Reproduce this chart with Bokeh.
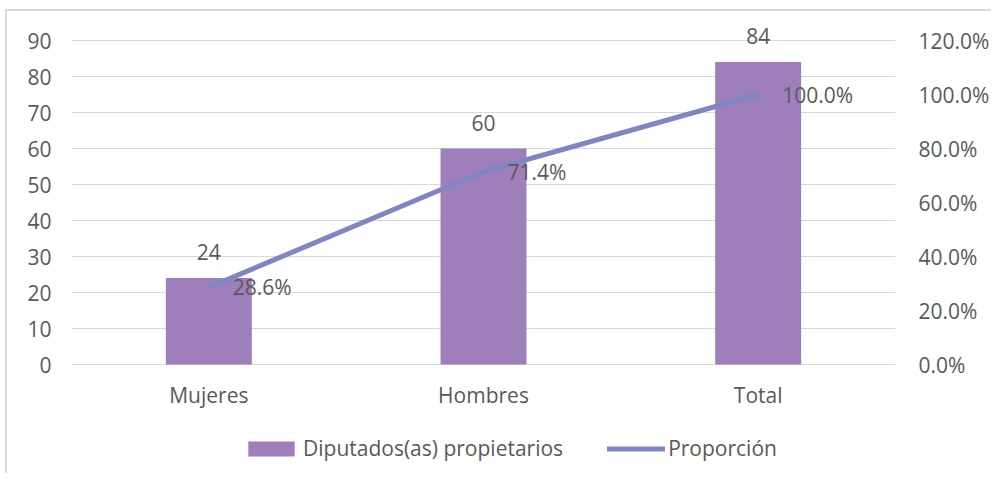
from bokeh.plotting import figure
from bokeh.models import Range1d, LinearAxis, FixedTicker, Legend, LegendItem
from bokeh.embed import file_html
from bokeh.resources import INLINE
from bokeh.core.properties import value

categories = ["Mujeres", "Hombres", "Total"]
diputados = [24, 60, 84]
proporcion = [28.6, 71.4, 100.0]
left_ticks = [0, 10, 20, 30, 40, 50, 60, 70, 80, 90]
right_ticks = [0, 20, 40, 60, 80, 100, 120]
series_names = ["Diputados(as) propietarios", "Proporción"]

FONT = "Open Sans"
FS = "21px"
TXT = "#595959"
BAR = "#9e7fbb"
LINE = "#7f86c3"
GRID = "#d9d9d9"

# left range extends below zero to leave room for category labels and legend
LEFT_START, LEFT_END = -30.83, 95
RATIO = right_ticks[-1] / left_ticks[-1]

p = figure(x_range=categories, y_range=Range1d(LEFT_START, LEFT_END), width=986, height=464,
           output_backend="svg", toolbar_location=None, x_axis_location=None,
           min_border_left=64, min_border_right=98, min_border_top=11, min_border_bottom=0)
p.extra_y_ranges = {"pct": Range1d(LEFT_START * RATIO, LEFT_END * RATIO)}
p.outline_line_color = None
p.margin = (9, 0, 0, 5)
p.styles = {"border-left": "2px solid #d9d9d9", "border-top": "2px solid #d9d9d9"}

p.xgrid.grid_line_color = None
p.ygrid.grid_line_color = GRID
p.ygrid.grid_line_width = 1.2
p.ygrid.ticker = FixedTicker(ticks=left_ticks)

bars = p.vbar(x=categories, top=diputados, width=0.313, fill_color=BAR, line_color=None)
line = p.line(x=categories, y=proporcion, y_range_name="pct", line_width=5,
              line_color=LINE, line_cap="round", line_join="round")

# category labels under the baseline
p.text(x=categories, y=[left_ticks[0]] * len(categories), text=categories,
       text_align="center", text_baseline="alphabetic", y_offset=30,
       text_font=value(FONT), text_font_size=FS, text_color=TXT)

# data labels
p.text(x=categories, y=diputados, text=[str(v) for v in diputados],
       text_align="center", text_baseline="alphabetic", y_offset=-26,
       text_font=value(FONT), text_font_size=FS, text_color=TXT)
p.text(x=categories, y=proporcion, text=[f"{v:.1f}%" for v in proporcion],
       y_range_name="pct", text_align="left", text_baseline="middle", x_offset=24,
       text_font=value(FONT), text_font_size=FS, text_color=TXT)

# left axis
ya = p.yaxis[0]
ya.ticker = FixedTicker(ticks=left_ticks)
ya.axis_line_color = None
ya.major_tick_line_color = None
ya.minor_tick_line_color = None
ya.major_tick_out = 0
ya.major_tick_in = 0
ya.minor_tick_out = 0
ya.major_label_standoff = 20
ya.major_label_text_font = FONT
ya.major_label_text_font_size = FS
ya.major_label_text_color = TXT

# right axis
ra = LinearAxis(y_range_name="pct", ticker=FixedTicker(ticks=right_ticks),
                major_label_overrides={t: f"{t:.1f}%" for t in right_ticks})
ra.axis_line_color = None
ra.major_tick_line_color = None
ra.minor_tick_line_color = None
ra.major_tick_out = 0
ra.major_tick_in = 0
ra.minor_tick_out = 0
ra.major_label_standoff = 23
ra.major_label_text_font = FONT
ra.major_label_text_font_size = FS
ra.major_label_text_color = TXT
p.add_layout(ra, "right")

legend = Legend(items=[LegendItem(label=series_names[0], renderers=[bars]),
                       LegendItem(label=series_names[1], renderers=[line])],
                location=(171, 13), orientation="horizontal",
                glyph_width=58, glyph_height=19, label_standoff=3, spacing=44,
                label_text_font=FONT, label_text_font_size=FS, label_text_color=TXT,
                border_line_alpha=0, background_fill_alpha=0, padding=0, margin=0)
p.add_layout(legend, "center")

open("out.html", "w").write(file_html(p, INLINE))
